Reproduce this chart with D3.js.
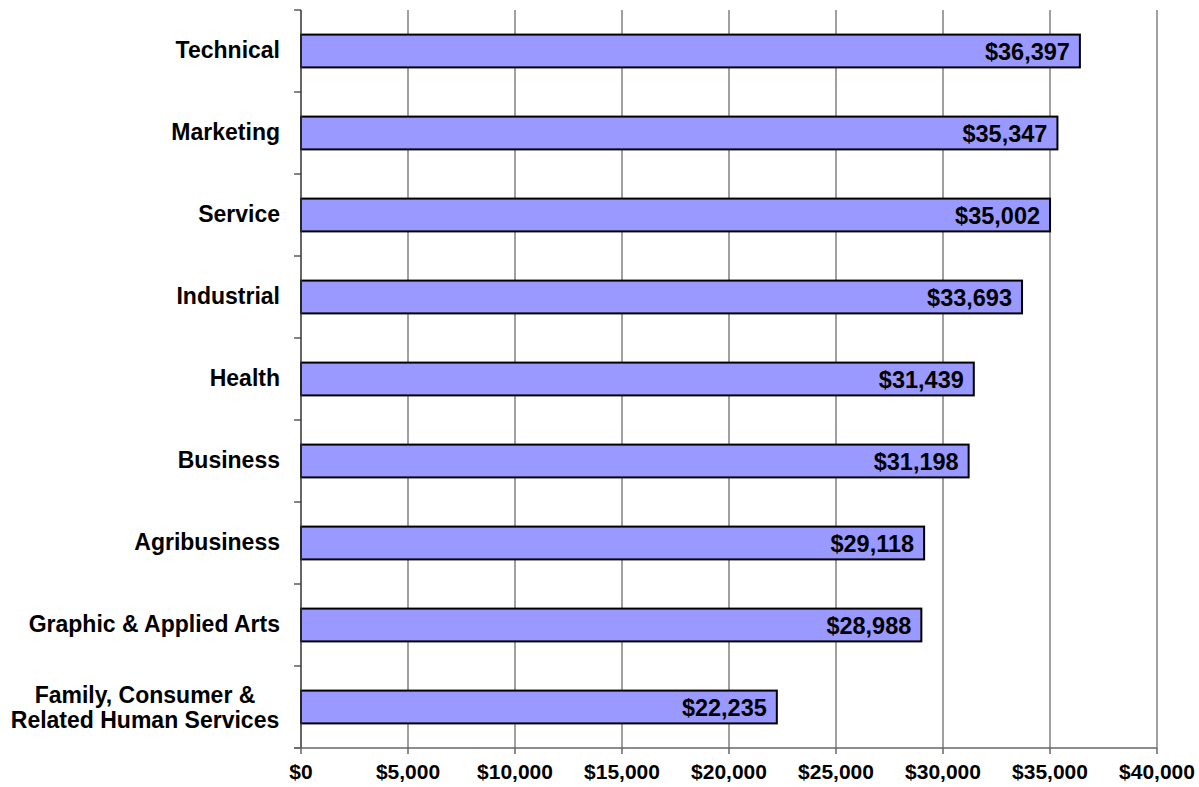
<!DOCTYPE html>
<html><head><meta charset="utf-8">
<script src="https://cdn.jsdelivr.net/npm/d3@7"></script>
<style>html,body{margin:0;padding:0;background:#fff;} svg{display:block;}</style>
</head><body>
<svg id="c" width="1199" height="787"></svg>
<script>
const categories = ["Technical","Marketing","Service","Industrial","Health","Business","Agribusiness","Graphic & Applied Arts","Family, Consumer &\nRelated Human Services"];
const values = [36397,35347,35002,33693,31439,31198,29118,28988,22235];
const tickValues = [0,5000,10000,15000,20000,25000,30000,35000,40000];

const svg = d3.select("#c");
const font = "'Liberation Sans', Arial, sans-serif";
const x = d3.scaleLinear().domain([0,40000]).range([301,1157]);
const y = d3.scaleBand().domain(categories).range([10,748]).paddingInner(0.6).paddingOuter(0.3);
const yb = d3.scaleBand().domain(categories).range([10,748]);

// gridlines
svg.append("g").selectAll("line").data(tickValues.slice(1)).join("line")
  .attr("x1",d=>x(d)).attr("x2",d=>x(d)).attr("y1",10).attr("y2",748)
  .attr("stroke","#808080").attr("stroke-width",1.5);

// bars
svg.append("g").selectAll("rect").data(values).join("rect")
  .attr("x",x(0)).attr("y",(d,i)=>y(categories[i]))
  .attr("width",d=>x(d)-x(0)).attr("height",y.bandwidth())
  .attr("fill","#9999FF").attr("stroke","#000").attr("stroke-width",2);

// value labels
svg.append("g").selectAll("text").data(values).join("text")
  .attr("x",d=>x(d)-10).attr("y",(d,i)=>y(categories[i])+y.bandwidth()/2+8.5)
  .attr("text-anchor","end")
  .attr("font-family",font).attr("font-weight","bold").attr("font-size",23.5).attr("fill","#000")
  .text(d=>d3.format("$,")(d));

// y axis line + ticks
const ya = svg.append("g");
ya.append("line").attr("x1",301).attr("x2",301).attr("y1",10).attr("y2",748).attr("stroke","#333").attr("stroke-width",1.5);
const boundaries = categories.map(c=>yb(c)).concat([748]);
ya.selectAll("line.t").data(boundaries).join("line").attr("class","t")
  .attr("x1",294).attr("x2",301).attr("y1",d=>d).attr("y2",d=>d).attr("stroke","#333").attr("stroke-width",1.2);

// category labels
svg.append("g").selectAll("text").data(categories).join("text")
  .attr("font-family",font).attr("font-weight","bold").attr("font-size",23).attr("fill","#000")
  .each(function(c){
    const lines = c.split("\n");
    const cy = yb(c)+yb.bandwidth()/2;
    const t = d3.select(this);
    if (lines.length === 1) {
      t.attr("text-anchor","end");
      t.append("tspan").attr("x",280).attr("y",cy+7).text(lines[0]);
    } else {
      t.attr("text-anchor","middle");
      lines.forEach((l,i)=>{
        t.append("tspan").attr("x",145).attr("y",cy - 4 + i*25).text(l);
      });
    }
  });

// x axis
const xa = svg.append("g");
xa.append("line").attr("x1",294).attr("x2",1157).attr("y1",748).attr("y2",748).attr("stroke","#666").attr("stroke-width",1.5);
xa.selectAll("line.t").data(tickValues).join("line").attr("class","t")
  .attr("x1",d=>x(d)).attr("x2",d=>x(d)).attr("y1",748).attr("y2",754).attr("stroke","#666").attr("stroke-width",1.5);
xa.selectAll("text").data(tickValues).join("text")
  .attr("x",d=>x(d)).attr("y",779).attr("text-anchor","middle")
  .attr("font-family",font).attr("font-weight","bold").attr("font-size",21).attr("fill","#000")
  .text(d=>d3.format("$,")(d));
</script>
</body></html>
